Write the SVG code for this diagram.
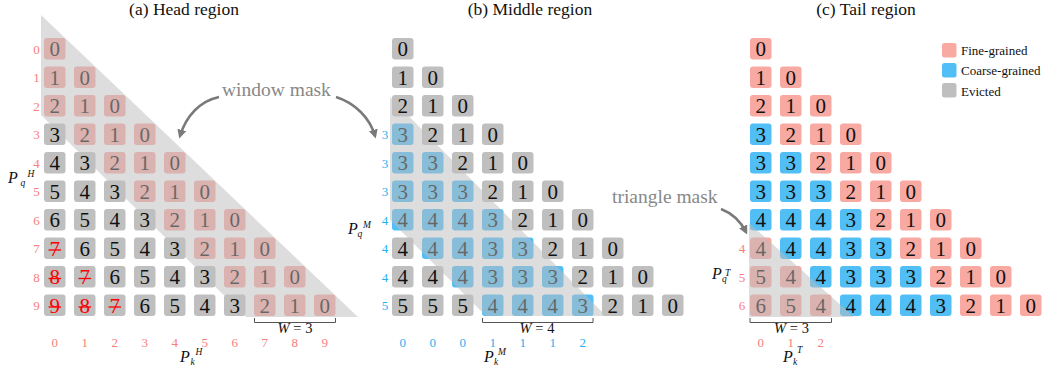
<svg xmlns="http://www.w3.org/2000/svg" xmlns:xlink="http://www.w3.org/1999/xlink" width="1046" height="373" viewBox="0 0 1046 373">
<style>
text{font-family:"Liberation Serif","Times New Roman",serif}
.n{font-size:21px;text-anchor:middle;fill:#111}
.x{fill:#ff0000}
.t{font-size:17.5px;text-anchor:middle;fill:#111}
.lr{font-size:13px;text-anchor:middle;fill:#fa7d7d}
.lb{font-size:13px;text-anchor:middle;fill:#1fb1f2}
.ax{font-size:16px;font-style:italic;fill:#111}
.sb{font-size:9.5px;font-style:italic;fill:#111}
.w{font-size:14.5px;text-anchor:middle;fill:#111}
.lg{font-size:13px;fill:#111}
.ann{font-size:19.5px;fill:#888}
.band{fill:#bcbcbc;fill-opacity:.5}
.br{fill:none;stroke:#555;stroke-width:1}
.arr{fill:none;stroke:#7a7a7a;stroke-width:2.5;marker-end:url(#ah)}
.st{stroke:#ff0000;stroke-width:1.3}
</style>
<defs>
<rect id="P" width="21.5" height="21.5" rx="3" fill="#f8a9a2"/>
<rect id="B" width="21.5" height="21.5" rx="3" fill="#52bef6"/>
<rect id="G" width="21.5" height="21.5" rx="3" fill="#bfbfbf"/>
<marker id="ah" viewBox="0 0 10 10" refX="7" refY="5" markerWidth="9" markerHeight="9" markerUnits="userSpaceOnUse" orient="auto"><path d="M0,0 L10,5 L0,10 z" fill="#7a7a7a"/></marker>
</defs>

<g id="titles">
<text class="t" x="184" y="14.5">(a) Head region</text>
<text class="t" x="530" y="14.5">(b) Middle region</text>
<text class="t" x="866" y="14.5">(c) Tail region</text>
</g>

<!-- ===== coloured cells (below masks) ===== -->
<g id="head-colored">
<g id="h0-0" transform="translate(44 38)"><use href="#P"/><text class="n" x="10.75" y="18">0</text></g>
<g id="h1-0" transform="translate(44 66.5)"><use href="#P"/><text class="n" x="10.75" y="18">1</text></g>
<g id="h1-1" transform="translate(74 66.5)"><use href="#P"/><text class="n" x="10.75" y="18">0</text></g>
<g id="h2-0" transform="translate(44 95)"><use href="#P"/><text class="n" x="10.75" y="18">2</text></g>
<g id="h2-1" transform="translate(74 95)"><use href="#P"/><text class="n" x="10.75" y="18">1</text></g>
<g id="h2-2" transform="translate(104 95)"><use href="#P"/><text class="n" x="10.75" y="18">0</text></g>
<g id="h3-1" transform="translate(74 123.5)"><use href="#P"/><text class="n" x="10.75" y="18">2</text></g>
<g id="h3-2" transform="translate(104 123.5)"><use href="#P"/><text class="n" x="10.75" y="18">1</text></g>
<g id="h3-3" transform="translate(134 123.5)"><use href="#P"/><text class="n" x="10.75" y="18">0</text></g>
<g id="h4-2" transform="translate(104 152)"><use href="#P"/><text class="n" x="10.75" y="18">2</text></g>
<g id="h4-3" transform="translate(134 152)"><use href="#P"/><text class="n" x="10.75" y="18">1</text></g>
<g id="h4-4" transform="translate(164 152)"><use href="#P"/><text class="n" x="10.75" y="18">0</text></g>
<g id="h5-3" transform="translate(134 180.5)"><use href="#P"/><text class="n" x="10.75" y="18">2</text></g>
<g id="h5-4" transform="translate(164 180.5)"><use href="#P"/><text class="n" x="10.75" y="18">1</text></g>
<g id="h5-5" transform="translate(194 180.5)"><use href="#P"/><text class="n" x="10.75" y="18">0</text></g>
<g id="h6-4" transform="translate(164 209)"><use href="#P"/><text class="n" x="10.75" y="18">2</text></g>
<g id="h6-5" transform="translate(194 209)"><use href="#P"/><text class="n" x="10.75" y="18">1</text></g>
<g id="h6-6" transform="translate(224 209)"><use href="#P"/><text class="n" x="10.75" y="18">0</text></g>
<g id="h7-5" transform="translate(194 237.5)"><use href="#P"/><text class="n" x="10.75" y="18">2</text></g>
<g id="h7-6" transform="translate(224 237.5)"><use href="#P"/><text class="n" x="10.75" y="18">1</text></g>
<g id="h7-7" transform="translate(254 237.5)"><use href="#P"/><text class="n" x="10.75" y="18">0</text></g>
<g id="h8-6" transform="translate(224 266)"><use href="#P"/><text class="n" x="10.75" y="18">2</text></g>
<g id="h8-7" transform="translate(254 266)"><use href="#P"/><text class="n" x="10.75" y="18">1</text></g>
<g id="h8-8" transform="translate(284 266)"><use href="#P"/><text class="n" x="10.75" y="18">0</text></g>
<g id="h9-7" transform="translate(254 294.5)"><use href="#P"/><text class="n" x="10.75" y="18">2</text></g>
<g id="h9-8" transform="translate(284 294.5)"><use href="#P"/><text class="n" x="10.75" y="18">1</text></g>
<g id="h9-9" transform="translate(314 294.5)"><use href="#P"/><text class="n" x="10.75" y="18">0</text></g>
</g>

<g id="mid-colored">
<g id="m3-0" transform="translate(392 123.5)"><use href="#B"/><text class="n" x="10.75" y="18">3</text></g>
<g id="m4-0" transform="translate(392 152)"><use href="#B"/><text class="n" x="10.75" y="18">3</text></g>
<g id="m4-1" transform="translate(422 152)"><use href="#B"/><text class="n" x="10.75" y="18">3</text></g>
<g id="m5-0" transform="translate(392 180.5)"><use href="#B"/><text class="n" x="10.75" y="18">3</text></g>
<g id="m5-1" transform="translate(422 180.5)"><use href="#B"/><text class="n" x="10.75" y="18">3</text></g>
<g id="m5-2" transform="translate(452 180.5)"><use href="#B"/><text class="n" x="10.75" y="18">3</text></g>
<g id="m6-0" transform="translate(392 209)"><use href="#B"/><text class="n" x="10.75" y="18">4</text></g>
<g id="m6-1" transform="translate(422 209)"><use href="#B"/><text class="n" x="10.75" y="18">4</text></g>
<g id="m6-2" transform="translate(452 209)"><use href="#B"/><text class="n" x="10.75" y="18">4</text></g>
<g id="m6-3" transform="translate(482 209)"><use href="#B"/><text class="n" x="10.75" y="18">3</text></g>
<g id="m7-1" transform="translate(422 237.5)"><use href="#B"/><text class="n" x="10.75" y="18">4</text></g>
<g id="m7-2" transform="translate(452 237.5)"><use href="#B"/><text class="n" x="10.75" y="18">4</text></g>
<g id="m7-3" transform="translate(482 237.5)"><use href="#B"/><text class="n" x="10.75" y="18">3</text></g>
<g id="m7-4" transform="translate(512 237.5)"><use href="#B"/><text class="n" x="10.75" y="18">3</text></g>
<g id="m8-2" transform="translate(452 266)"><use href="#B"/><text class="n" x="10.75" y="18">4</text></g>
<g id="m8-3" transform="translate(482 266)"><use href="#B"/><text class="n" x="10.75" y="18">3</text></g>
<g id="m8-4" transform="translate(512 266)"><use href="#B"/><text class="n" x="10.75" y="18">3</text></g>
<g id="m8-5" transform="translate(542 266)"><use href="#B"/><text class="n" x="10.75" y="18">3</text></g>
<g id="m9-3" transform="translate(482 294.5)"><use href="#B"/><text class="n" x="10.75" y="18">4</text></g>
<g id="m9-4" transform="translate(512 294.5)"><use href="#B"/><text class="n" x="10.75" y="18">4</text></g>
<g id="m9-5" transform="translate(542 294.5)"><use href="#B"/><text class="n" x="10.75" y="18">4</text></g>
<g id="m9-6" transform="translate(572 294.5)"><use href="#B"/><text class="n" x="10.75" y="18">3</text></g>
</g>

<g id="tail-colored">
<g id="t0-0" transform="translate(750 38)"><use href="#P"/><text class="n" x="10.75" y="18">0</text></g>
<g id="t1-0" transform="translate(750 66.5)"><use href="#P"/><text class="n" x="10.75" y="18">1</text></g>
<g id="t1-1" transform="translate(780 66.5)"><use href="#P"/><text class="n" x="10.75" y="18">0</text></g>
<g id="t2-0" transform="translate(750 95)"><use href="#P"/><text class="n" x="10.75" y="18">2</text></g>
<g id="t2-1" transform="translate(780 95)"><use href="#P"/><text class="n" x="10.75" y="18">1</text></g>
<g id="t2-2" transform="translate(810 95)"><use href="#P"/><text class="n" x="10.75" y="18">0</text></g>
<g id="t3-0" transform="translate(750 123.5)"><use href="#B"/><text class="n" x="10.75" y="18">3</text></g>
<g id="t3-1" transform="translate(780 123.5)"><use href="#P"/><text class="n" x="10.75" y="18">2</text></g>
<g id="t3-2" transform="translate(810 123.5)"><use href="#P"/><text class="n" x="10.75" y="18">1</text></g>
<g id="t3-3" transform="translate(840 123.5)"><use href="#P"/><text class="n" x="10.75" y="18">0</text></g>
<g id="t4-0" transform="translate(750 152)"><use href="#B"/><text class="n" x="10.75" y="18">3</text></g>
<g id="t4-1" transform="translate(780 152)"><use href="#B"/><text class="n" x="10.75" y="18">3</text></g>
<g id="t4-2" transform="translate(810 152)"><use href="#P"/><text class="n" x="10.75" y="18">2</text></g>
<g id="t4-3" transform="translate(840 152)"><use href="#P"/><text class="n" x="10.75" y="18">1</text></g>
<g id="t4-4" transform="translate(870 152)"><use href="#P"/><text class="n" x="10.75" y="18">0</text></g>
<g id="t5-0" transform="translate(750 180.5)"><use href="#B"/><text class="n" x="10.75" y="18">3</text></g>
<g id="t5-1" transform="translate(780 180.5)"><use href="#B"/><text class="n" x="10.75" y="18">3</text></g>
<g id="t5-2" transform="translate(810 180.5)"><use href="#B"/><text class="n" x="10.75" y="18">3</text></g>
<g id="t5-3" transform="translate(840 180.5)"><use href="#P"/><text class="n" x="10.75" y="18">2</text></g>
<g id="t5-4" transform="translate(870 180.5)"><use href="#P"/><text class="n" x="10.75" y="18">1</text></g>
<g id="t5-5" transform="translate(900 180.5)"><use href="#P"/><text class="n" x="10.75" y="18">0</text></g>
<g id="t6-0" transform="translate(750 209)"><use href="#B"/><text class="n" x="10.75" y="18">4</text></g>
<g id="t6-1" transform="translate(780 209)"><use href="#B"/><text class="n" x="10.75" y="18">4</text></g>
<g id="t6-2" transform="translate(810 209)"><use href="#B"/><text class="n" x="10.75" y="18">4</text></g>
<g id="t6-3" transform="translate(840 209)"><use href="#B"/><text class="n" x="10.75" y="18">3</text></g>
<g id="t6-4" transform="translate(870 209)"><use href="#P"/><text class="n" x="10.75" y="18">2</text></g>
<g id="t6-5" transform="translate(900 209)"><use href="#P"/><text class="n" x="10.75" y="18">1</text></g>
<g id="t6-6" transform="translate(930 209)"><use href="#P"/><text class="n" x="10.75" y="18">0</text></g>
<g id="t7-0" transform="translate(750 237.5)"><use href="#P"/><text class="n" x="10.75" y="18">4</text></g>
<g id="t7-1" transform="translate(780 237.5)"><use href="#B"/><text class="n" x="10.75" y="18">4</text></g>
<g id="t7-2" transform="translate(810 237.5)"><use href="#B"/><text class="n" x="10.75" y="18">4</text></g>
<g id="t7-3" transform="translate(840 237.5)"><use href="#B"/><text class="n" x="10.75" y="18">3</text></g>
<g id="t7-4" transform="translate(870 237.5)"><use href="#B"/><text class="n" x="10.75" y="18">3</text></g>
<g id="t7-5" transform="translate(900 237.5)"><use href="#P"/><text class="n" x="10.75" y="18">2</text></g>
<g id="t7-6" transform="translate(930 237.5)"><use href="#P"/><text class="n" x="10.75" y="18">1</text></g>
<g id="t7-7" transform="translate(960 237.5)"><use href="#P"/><text class="n" x="10.75" y="18">0</text></g>
<g id="t8-0" transform="translate(750 266)"><use href="#P"/><text class="n" x="10.75" y="18">5</text></g>
<g id="t8-1" transform="translate(780 266)"><use href="#P"/><text class="n" x="10.75" y="18">4</text></g>
<g id="t8-2" transform="translate(810 266)"><use href="#B"/><text class="n" x="10.75" y="18">4</text></g>
<g id="t8-3" transform="translate(840 266)"><use href="#B"/><text class="n" x="10.75" y="18">3</text></g>
<g id="t8-4" transform="translate(870 266)"><use href="#B"/><text class="n" x="10.75" y="18">3</text></g>
<g id="t8-5" transform="translate(900 266)"><use href="#B"/><text class="n" x="10.75" y="18">3</text></g>
<g id="t8-6" transform="translate(930 266)"><use href="#P"/><text class="n" x="10.75" y="18">2</text></g>
<g id="t8-7" transform="translate(960 266)"><use href="#P"/><text class="n" x="10.75" y="18">1</text></g>
<g id="t8-8" transform="translate(990 266)"><use href="#P"/><text class="n" x="10.75" y="18">0</text></g>
<g id="t9-0" transform="translate(750 294.5)"><use href="#P"/><text class="n" x="10.75" y="18">6</text></g>
<g id="t9-1" transform="translate(780 294.5)"><use href="#P"/><text class="n" x="10.75" y="18">5</text></g>
<g id="t9-2" transform="translate(810 294.5)"><use href="#P"/><text class="n" x="10.75" y="18">4</text></g>
<g id="t9-3" transform="translate(840 294.5)"><use href="#B"/><text class="n" x="10.75" y="18">4</text></g>
<g id="t9-4" transform="translate(870 294.5)"><use href="#B"/><text class="n" x="10.75" y="18">4</text></g>
<g id="t9-5" transform="translate(900 294.5)"><use href="#B"/><text class="n" x="10.75" y="18">4</text></g>
<g id="t9-6" transform="translate(930 294.5)"><use href="#B"/><text class="n" x="10.75" y="18">3</text></g>
<g id="t9-7" transform="translate(960 294.5)"><use href="#P"/><text class="n" x="10.75" y="18">2</text></g>
<g id="t9-8" transform="translate(990 294.5)"><use href="#P"/><text class="n" x="10.75" y="18">1</text></g>
<g id="t9-9" transform="translate(1020 294.5)"><use href="#P"/><text class="n" x="10.75" y="18">0</text></g>
</g>

<!-- ===== masks ===== -->
<g id="masks">
<polygon id="window-mask-head" class="band" points="41,15 358,317 246,317 41,115"/>
<polygon id="window-mask-mid" class="band" points="390,97 606,316 486,316 390,220"/>
<polygon id="triangle-mask-tail" class="band" points="749,223 854,317 749,317"/>
</g>

<!-- ===== evicted cells (above masks) ===== -->
<g id="head-evicted">
<g id="h3-0" transform="translate(44 123.5)"><use href="#G"/><text class="n" x="10.75" y="18">3</text></g>
<g id="h4-0" transform="translate(44 152)"><use href="#G"/><text class="n" x="10.75" y="18">4</text></g>
<g id="h4-1" transform="translate(74 152)"><use href="#G"/><text class="n" x="10.75" y="18">3</text></g>
<g id="h5-0" transform="translate(44 180.5)"><use href="#G"/><text class="n" x="10.75" y="18">5</text></g>
<g id="h5-1" transform="translate(74 180.5)"><use href="#G"/><text class="n" x="10.75" y="18">4</text></g>
<g id="h5-2" transform="translate(104 180.5)"><use href="#G"/><text class="n" x="10.75" y="18">3</text></g>
<g id="h6-0" transform="translate(44 209)"><use href="#G"/><text class="n" x="10.75" y="18">6</text></g>
<g id="h6-1" transform="translate(74 209)"><use href="#G"/><text class="n" x="10.75" y="18">5</text></g>
<g id="h6-2" transform="translate(104 209)"><use href="#G"/><text class="n" x="10.75" y="18">4</text></g>
<g id="h6-3" transform="translate(134 209)"><use href="#G"/><text class="n" x="10.75" y="18">3</text></g>
<g id="h7-0" transform="translate(44 237.5)"><use href="#G"/><text class="n x" x="10.75" y="18">7</text><line class="st" x1="4.5" y1="12.5" x2="17" y2="12.5"/></g>
<g id="h7-1" transform="translate(74 237.5)"><use href="#G"/><text class="n" x="10.75" y="18">6</text></g>
<g id="h7-2" transform="translate(104 237.5)"><use href="#G"/><text class="n" x="10.75" y="18">5</text></g>
<g id="h7-3" transform="translate(134 237.5)"><use href="#G"/><text class="n" x="10.75" y="18">4</text></g>
<g id="h7-4" transform="translate(164 237.5)"><use href="#G"/><text class="n" x="10.75" y="18">3</text></g>
<g id="h8-0" transform="translate(44 266)"><use href="#G"/><text class="n x" x="10.75" y="18">8</text><line class="st" x1="4.5" y1="12.5" x2="17" y2="12.5"/></g>
<g id="h8-1" transform="translate(74 266)"><use href="#G"/><text class="n x" x="10.75" y="18">7</text><line class="st" x1="4.5" y1="12.5" x2="17" y2="12.5"/></g>
<g id="h8-2" transform="translate(104 266)"><use href="#G"/><text class="n" x="10.75" y="18">6</text></g>
<g id="h8-3" transform="translate(134 266)"><use href="#G"/><text class="n" x="10.75" y="18">5</text></g>
<g id="h8-4" transform="translate(164 266)"><use href="#G"/><text class="n" x="10.75" y="18">4</text></g>
<g id="h8-5" transform="translate(194 266)"><use href="#G"/><text class="n" x="10.75" y="18">3</text></g>
<g id="h9-0" transform="translate(44 294.5)"><use href="#G"/><text class="n x" x="10.75" y="18">9</text><line class="st" x1="4.5" y1="12.5" x2="17" y2="12.5"/></g>
<g id="h9-1" transform="translate(74 294.5)"><use href="#G"/><text class="n x" x="10.75" y="18">8</text><line class="st" x1="4.5" y1="12.5" x2="17" y2="12.5"/></g>
<g id="h9-2" transform="translate(104 294.5)"><use href="#G"/><text class="n x" x="10.75" y="18">7</text><line class="st" x1="4.5" y1="12.5" x2="17" y2="12.5"/></g>
<g id="h9-3" transform="translate(134 294.5)"><use href="#G"/><text class="n" x="10.75" y="18">6</text></g>
<g id="h9-4" transform="translate(164 294.5)"><use href="#G"/><text class="n" x="10.75" y="18">5</text></g>
<g id="h9-5" transform="translate(194 294.5)"><use href="#G"/><text class="n" x="10.75" y="18">4</text></g>
<g id="h9-6" transform="translate(224 294.5)"><use href="#G"/><text class="n" x="10.75" y="18">3</text></g>
</g>

<g id="mid-evicted">
<g id="m0-0" transform="translate(392 38)"><use href="#G"/><text class="n" x="10.75" y="18">0</text></g>
<g id="m1-0" transform="translate(392 66.5)"><use href="#G"/><text class="n" x="10.75" y="18">1</text></g>
<g id="m1-1" transform="translate(422 66.5)"><use href="#G"/><text class="n" x="10.75" y="18">0</text></g>
<g id="m2-0" transform="translate(392 95)"><use href="#G"/><text class="n" x="10.75" y="18">2</text></g>
<g id="m2-1" transform="translate(422 95)"><use href="#G"/><text class="n" x="10.75" y="18">1</text></g>
<g id="m2-2" transform="translate(452 95)"><use href="#G"/><text class="n" x="10.75" y="18">0</text></g>
<g id="m3-1" transform="translate(422 123.5)"><use href="#G"/><text class="n" x="10.75" y="18">2</text></g>
<g id="m3-2" transform="translate(452 123.5)"><use href="#G"/><text class="n" x="10.75" y="18">1</text></g>
<g id="m3-3" transform="translate(482 123.5)"><use href="#G"/><text class="n" x="10.75" y="18">0</text></g>
<g id="m4-2" transform="translate(452 152)"><use href="#G"/><text class="n" x="10.75" y="18">2</text></g>
<g id="m4-3" transform="translate(482 152)"><use href="#G"/><text class="n" x="10.75" y="18">1</text></g>
<g id="m4-4" transform="translate(512 152)"><use href="#G"/><text class="n" x="10.75" y="18">0</text></g>
<g id="m5-3" transform="translate(482 180.5)"><use href="#G"/><text class="n" x="10.75" y="18">2</text></g>
<g id="m5-4" transform="translate(512 180.5)"><use href="#G"/><text class="n" x="10.75" y="18">1</text></g>
<g id="m5-5" transform="translate(542 180.5)"><use href="#G"/><text class="n" x="10.75" y="18">0</text></g>
<g id="m6-4" transform="translate(512 209)"><use href="#G"/><text class="n" x="10.75" y="18">2</text></g>
<g id="m6-5" transform="translate(542 209)"><use href="#G"/><text class="n" x="10.75" y="18">1</text></g>
<g id="m6-6" transform="translate(572 209)"><use href="#G"/><text class="n" x="10.75" y="18">0</text></g>
<g id="m7-0" transform="translate(392 237.5)"><use href="#G"/><text class="n" x="10.75" y="18">4</text></g>
<g id="m7-5" transform="translate(542 237.5)"><use href="#G"/><text class="n" x="10.75" y="18">2</text></g>
<g id="m7-6" transform="translate(572 237.5)"><use href="#G"/><text class="n" x="10.75" y="18">1</text></g>
<g id="m7-7" transform="translate(602 237.5)"><use href="#G"/><text class="n" x="10.75" y="18">0</text></g>
<g id="m8-0" transform="translate(392 266)"><use href="#G"/><text class="n" x="10.75" y="18">4</text></g>
<g id="m8-1" transform="translate(422 266)"><use href="#G"/><text class="n" x="10.75" y="18">4</text></g>
<g id="m8-6" transform="translate(572 266)"><use href="#G"/><text class="n" x="10.75" y="18">2</text></g>
<g id="m8-7" transform="translate(602 266)"><use href="#G"/><text class="n" x="10.75" y="18">1</text></g>
<g id="m8-8" transform="translate(632 266)"><use href="#G"/><text class="n" x="10.75" y="18">0</text></g>
<g id="m9-0" transform="translate(392 294.5)"><use href="#G"/><text class="n" x="10.75" y="18">5</text></g>
<g id="m9-1" transform="translate(422 294.5)"><use href="#G"/><text class="n" x="10.75" y="18">5</text></g>
<g id="m9-2" transform="translate(452 294.5)"><use href="#G"/><text class="n" x="10.75" y="18">5</text></g>
<g id="m9-7" transform="translate(602 294.5)"><use href="#G"/><text class="n" x="10.75" y="18">2</text></g>
<g id="m9-8" transform="translate(632 294.5)"><use href="#G"/><text class="n" x="10.75" y="18">1</text></g>
<g id="m9-9" transform="translate(662 294.5)"><use href="#G"/><text class="n" x="10.75" y="18">0</text></g>
</g>

<!-- ===== axis labels ===== -->
<g id="head-axes">
<text class="lr" x="36.5" y="53.7">0</text>
<text class="lr" x="36.5" y="82.2">1</text>
<text class="lr" x="36.5" y="110.7">2</text>
<text class="lr" x="36.5" y="139.2">3</text>
<text class="lr" x="36.5" y="167.7">4</text>
<text class="lr" x="36.5" y="196.2">5</text>
<text class="lr" x="36.5" y="224.7">6</text>
<text class="lr" x="36.5" y="253.2">7</text>
<text class="lr" x="36.5" y="281.7">8</text>
<text class="lr" x="36.5" y="310.2">9</text>
<text class="lr" x="54.75" y="347">0</text>
<text class="lr" x="84.75" y="347">1</text>
<text class="lr" x="114.75" y="347">2</text>
<text class="lr" x="144.75" y="347">3</text>
<text class="lr" x="174.75" y="347">4</text>
<text class="lr" x="204.75" y="347">5</text>
<text class="lr" x="234.75" y="347">6</text>
<text class="lr" x="264.75" y="347">7</text>
<text class="lr" x="294.75" y="347">8</text>
<text class="lr" x="324.75" y="347">9</text>
<text class="ax" x="8" y="183">P</text><text class="sb" x="20.5" y="186">q</text><text class="sb" x="27.5" y="177">H</text>
<text class="ax" x="180" y="362">P</text><text class="sb" x="190.5" y="365">k</text><text class="sb" x="195.5" y="355">H</text>
</g>

<g id="mid-axes">
<text class="lb" x="385" y="139.2">3</text>
<text class="lb" x="385" y="167.7">3</text>
<text class="lb" x="385" y="196.2">3</text>
<text class="lb" x="385" y="224.7">4</text>
<text class="lb" x="385" y="253.2">4</text>
<text class="lb" x="385" y="281.7">4</text>
<text class="lb" x="385" y="310.2">5</text>
<text class="lb" x="402.75" y="347">0</text>
<text class="lb" x="432.75" y="347">0</text>
<text class="lb" x="462.75" y="347">0</text>
<text class="lb" x="492.75" y="347">1</text>
<text class="lb" x="522.75" y="347">1</text>
<text class="lb" x="552.75" y="347">1</text>
<text class="lb" x="582.75" y="347">2</text>
<text class="ax" x="348" y="234">P</text><text class="sb" x="357.5" y="237">q</text><text class="sb" x="363" y="228">M</text>
<text class="ax" x="484" y="362">P</text><text class="sb" x="494" y="365">k</text><text class="sb" x="498" y="355">M</text>
</g>

<g id="tail-axes">
<text class="lr" x="742" y="253.2">4</text>
<text class="lr" x="742" y="281.7">5</text>
<text class="lr" x="742" y="310.2">6</text>
<text class="lr" x="760.75" y="347">0</text>
<text class="lr" x="790.75" y="347">1</text>
<text class="lr" x="820.75" y="347">2</text>
<text class="ax" x="712" y="279">P</text><text class="sb" x="722" y="282">q</text><text class="sb" x="725" y="276">T</text>
<text class="ax" x="783" y="362">P</text><text class="sb" x="793" y="365">k</text><text class="sb" x="797" y="353">T</text>
</g>

<g id="windows">
<path class="br" d="M254.5,318 V322.5 H335.5 V318"/>
<text class="w" x="295" y="333"><tspan font-style="italic">W</tspan> = 3</text>
<path class="br" d="M482.5,318 V322.5 H593 V318"/>
<text class="w" x="537" y="333"><tspan font-style="italic">W</tspan> = 4</text>
<path class="br" d="M750,318 V322.5 H831.5 V318"/>
<text class="w" x="791.5" y="333"><tspan font-style="italic">W</tspan> = 3</text>
</g>

<g id="annotations">
<text class="ann" x="222" y="96">window mask</text>
<text class="ann" x="612" y="203">triangle mask</text>
</g>

<g id="connectors">
<path class="arr" d="M219,97 C200,101 186,116 180,136"/>
<path class="arr" d="M336,97 C355,103 370,118 375,136"/>
<path class="arr" d="M721,209 C734,214 742,224 746,232"/>
</g>

<g id="legend">
<g id="lg-fine"><rect x="942" y="43" width="14.5" height="14.5" rx="2.5" fill="#f8a9a2"/><text class="lg" x="961" y="55">Fine-grained</text></g>
<g id="lg-coarse"><rect x="942" y="63" width="14.5" height="14.5" rx="2.5" fill="#52bef6"/><text class="lg" x="961" y="75">Coarse-grained</text></g>
<g id="lg-evicted"><rect x="942" y="83" width="14.5" height="14.5" rx="2.5" fill="#bfbfbf"/><text class="lg" x="961" y="95.5">Evicted</text></g>
</g>
</svg>
